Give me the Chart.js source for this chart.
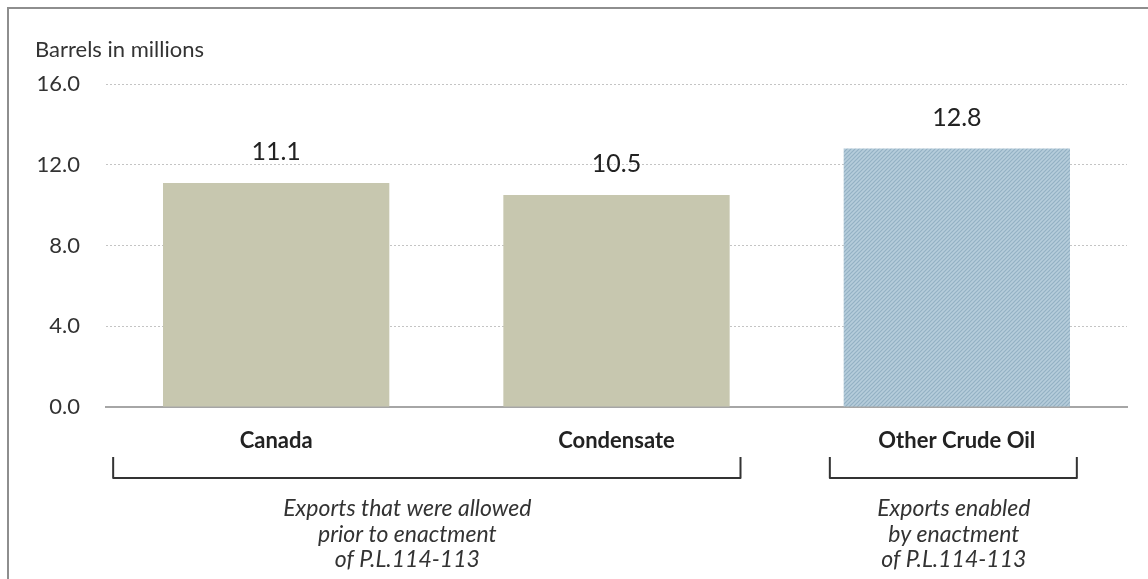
<!DOCTYPE html>
<html>
<head>
<meta charset="utf-8">
<script src="https://cdn.jsdelivr.net/npm/chart.js@4.4.0/dist/chart.umd.min.js"></script>
<style>
  html, body { margin: 0; padding: 0; background: #fff; overflow: hidden; }
  #wrap { position: relative; width: 1148px; height: 579px; }
  #frame { position: absolute; left: 7px; top: 7px; width: 1200px; height: 700px; border: 2px solid #8e8e8e; box-sizing: border-box; }
  #c { position: absolute; left: 0; top: 0; }
</style>
</head>
<body>
<div id="wrap">
  <div id="frame"></div>
  <canvas id="c" width="1148" height="579"></canvas>
</div>
<script>
// --- data ---
const categories = ['Canada', 'Condensate', 'Other Crude Oil'];
const barrels = [11.1, 10.5, 12.8];
const yTicks = [0, 4, 8, 12, 16];
const groupLabels = [
  ['Exports that were allowed', 'prior to enactment', 'of P.L.114-113'],
  ['Exports enabled', 'by enactment', 'of P.L.114-113']
];

const FONT = 'Lato, "Open Sans", sans-serif';

// hatched fill for the last bar
function makeHatch() {
  const p = document.createElement('canvas');
  p.width = 4; p.height = 4;
  const g = p.getContext('2d');
  g.fillStyle = '#b6cddb';
  g.fillRect(0, 0, 4, 4);
  g.strokeStyle = '#94b1c4';
  g.lineWidth = 1.2;
  g.beginPath();
  g.moveTo(-1, 5); g.lineTo(5, -1);
  g.moveTo(-1, 1); g.lineTo(1, -1);
  g.moveTo(3, 5); g.lineTo(5, 3);
  g.stroke();
  return g.createPattern(p, 'repeat');
}
const ctx = document.getElementById('c').getContext('2d');
const hatch = makeHatch();

// value labels, title, brackets and group captions
const extras = {
  id: 'extras',
  afterDatasetsDraw(chart) {
    const c = chart.ctx;
    const meta = chart.getDatasetMeta(0);
    const x = chart.scales.x;
    c.save();
    c.fillStyle = '#222';
    c.font = '25px ' + FONT;
    c.textAlign = 'center';
    c.textBaseline = 'middle';
    meta.data.forEach((bar, i) => {
      c.fillText(barrels[i].toFixed(1), bar.x, bar.y - 31);
    });

    c.textAlign = 'left';
    c.font = '22px ' + FONT;
    c.fillStyle = '#333';
    c.fillText('Barrels in millions', 35, 50);

    // brackets
    c.strokeStyle = '#333';
    c.lineWidth = 2;
    c.lineJoin = 'round';
    const brackets = [
      [x.getPixelForValue(0) - 163, x.getPixelForValue(1) + 124],
      [x.getPixelForValue(2) - 127, x.getPixelForValue(2) + 120]
    ];
    brackets.forEach(([l, r]) => {
      c.beginPath();
      c.moveTo(l, 457);
      c.lineTo(l, 478);
      c.lineTo(r, 478);
      c.lineTo(r, 457);
      c.stroke();
    });

    // group captions
    c.font = 'italic 23px ' + FONT;
    c.fillStyle = '#333';
    c.textAlign = 'center';
    const centers = [
      (x.getPixelForValue(0) + x.getPixelForValue(1)) / 2 - 39,
      x.getPixelForValue(2) - 3
    ];
    groupLabels.forEach((lines, g) => {
      lines.forEach((t, k) => c.fillText(t, centers[g], 509 + k * 25.5));
    });
    c.restore();
  }
};

new Chart(ctx, {
  type: 'bar',
  data: {
    labels: categories,
    datasets: [{
      data: barrels,
      backgroundColor: ['#c7c7af', '#c7c7af', hatch],
      borderWidth: 0,
      categoryPercentage: 1,
      barPercentage: 0.665
    }]
  },
  options: {
    responsive: false,
    animation: false,
    events: [],
    layout: { padding: { left: 0, right: 21, top: 84, bottom: 0 } },
    plugins: { legend: { display: false }, tooltip: { enabled: false }, title: { display: false } },
    scales: {
      x: {
        grid: { display: false },
        border: { display: true, color: '#a6a6a6', width: 2 },
        ticks: {
          padding: 13,
          color: '#222',
          font: { family: FONT, size: 22, weight: 'bold' }
        },
        afterFit(s) { s.height = 172; }
      },
      y: {
        min: 0,
        max: 16,
        afterBuildTicks(s) { s.ticks = yTicks.map(v => ({ value: v })); },
        grid: {
          drawTicks: false,
          color: c => c.tick && c.tick.value === 0 ? 'rgba(0,0,0,0)' : '#c4c4c4',
          lineWidth: 1
        },
        border: { display: false, dash: [2, 2] },
        ticks: {
          padding: 26,
          color: '#333',
          font: { family: FONT, size: 22 },
          callback: v => Number(v).toFixed(1)
        },
        afterFit(s) { s.width = 106; }
      }
    }
  },
  plugins: [extras]
});
</script>
</body>
</html>
